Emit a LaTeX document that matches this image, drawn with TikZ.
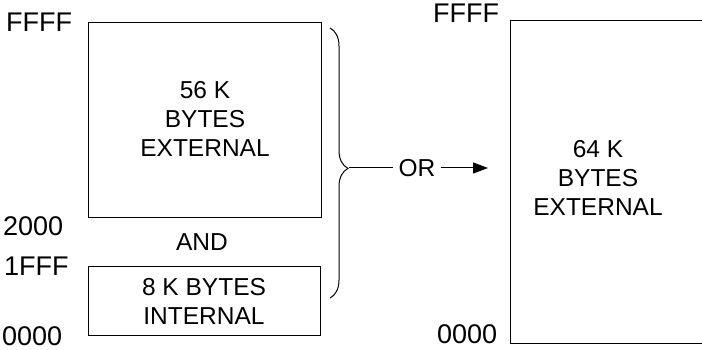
\documentclass[tikz,border=0pt]{standalone}
\usepackage{fontspec}
\setmainfont{Liberation Sans}
\usetikzlibrary{arrows.meta,decorations.pathreplacing}
\begin{document}
\begin{tikzpicture}[x=1pt,y=-1pt,
  box/.style={draw,line width=1.1pt,inner sep=0pt},
  lbl/.style={font=\fontsize{24.5}{29}\selectfont,inner sep=0pt,align=center},
  addr/.style={font=\fontsize{27}{30}\selectfont,inner sep=0pt},
  conn/.style={line width=1pt}]
\useasboundingbox (0,0) rectangle (702,350);
% boxes
\node (ext56) [box,anchor=north west,minimum width=233pt,minimum height=195pt] at (88,22) {};
\node (int8) [box,anchor=north west,minimum width=232pt,minimum height=69pt] at (88,266) {};
\node (ext64) [box,anchor=north west,minimum width=194pt,minimum height=323pt] at (510,20) {};
% box texts
\node (t56) [lbl] at (205,119) {56 K\\BYTES\\EXTERNAL};
\node (t8) [lbl] at (204,301) {8 K BYTES\\INTERNAL};
\node (t64) [lbl] at (598,178) {64 K\\BYTES\\EXTERNAL};
\node (and) [lbl] at (202,242) {AND};
% addresses
\node (a1) [addr,anchor=west] at (6,22) {FFFF};
\node (a2) [addr,anchor=west] at (3,226) {2000};
\node (a3) [addr,anchor=west] at (4,266) {1FFF};
\node (a4) [addr,anchor=west] at (2,336) {0000};
\node (a5) [addr,anchor=west] at (433,13) {FFFF};
\node (a6) [addr,anchor=west] at (437,334) {0000};
% brace
\draw[conn,decorate,decoration={brace,amplitude=18pt,aspect=0.52}] (330,28) -- (330,298);
\coordinate (tip) at (349,168);
\node (or) [lbl,inner xsep=5pt] at (417,168) {OR};
\coordinate (arrend) at (488,168);
\draw[conn] (tip) -- (or.west);
\draw[conn,-{Triangle[length=15pt,width=11pt]}] (or.east) -- (arrend);
\end{tikzpicture}
\end{document}
